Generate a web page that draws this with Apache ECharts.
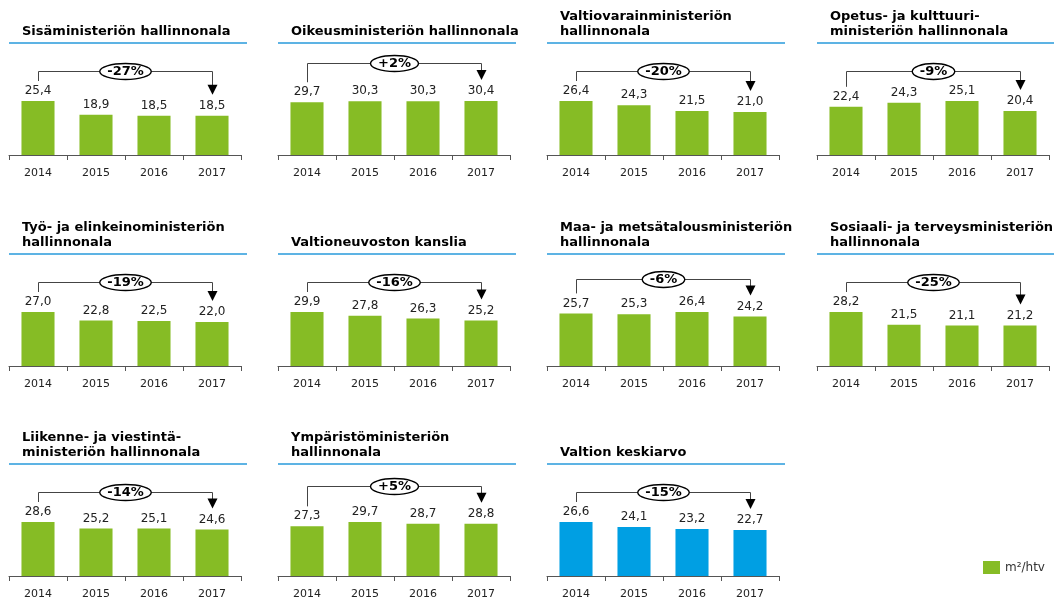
<!DOCTYPE html>
<html>
<head>
<meta charset="utf-8">
<script src="https://cdn.jsdelivr.net/npm/echarts@6/dist/echarts.min.js"></script>
<style>
  html, body { margin: 0; padding: 0; background: #fff; }
  #main { width: 1054px; height: 603px; }
</style>
</head>
<body>
<div id="main"></div>
<script>
// data
const years = ['2014', '2015', '2016', '2017'];
const titles = [
  'Sisäministeriön hallinnonala',
  'Oikeusministeriön hallinnonala',
  'Valtiovarainministeriön\nhallinnonala',
  'Opetus- ja kulttuuri-\nministeriön hallinnonala',
  'Työ- ja elinkeinoministeriön\nhallinnonala',
  'Valtioneuvoston kanslia',
  'Maa- ja metsätalousministeriön\nhallinnonala',
  'Sosiaali- ja terveysministeriön\nhallinnonala',
  'Liikenne- ja viestintä-\nministeriön hallinnonala',
  'Ympäristöministeriön\nhallinnonala',
  'Valtion keskiarvo'
];
const sisa = [25.4, 18.9, 18.5, 18.5];
const oikeus = [29.7, 30.3, 30.3, 30.4];
const valtiovarain = [26.4, 24.3, 21.5, 21.0];
const opetus = [22.4, 24.3, 25.1, 20.4];
const tyo = [27.0, 22.8, 22.5, 22.0];
const vnk = [29.9, 27.8, 26.3, 25.2];
const maa = [25.7, 25.3, 26.4, 24.2];
const sosiaali = [28.2, 21.5, 21.1, 21.2];
const liikenne = [28.6, 25.2, 25.1, 24.6];
const ymparisto = [27.3, 29.7, 28.7, 28.8];
const keskiarvo = [26.6, 24.1, 23.2, 22.7];
const panels = [sisa, oikeus, valtiovarain, opetus, tyo, vnk, maa, sosiaali, liikenne, ymparisto, keskiarvo];
const unitName = 'm²/htv';

// layout
const FONT = 'DejaVu Sans, Verdana, sans-serif';
const COLS = [9, 278, 547, 817];
const BASE = [155, 366, 576];
const W = 232, H = 54;
const GREEN = '#86bc25', BLUE = '#009fe3';

const chart = echarts.init(document.getElementById('main'), null, { renderer: 'canvas' });

const grids = [], xAxes = [], yAxes = [], series = [];
panels.forEach((vals, i) => {
  const c = i % 4, r = Math.floor(i / 4);
  grids.push({ left: COLS[c], top: BASE[r] - H, width: W, height: H });
  xAxes.push({
    gridIndex: i, type: 'category', data: years,
    axisLine: { lineStyle: { color: '#555', width: 1 } },
    axisTick: { show: true, length: 5, lineStyle: { color: '#555' } },
    axisLabel: { fontSize: 11, color: '#222', margin: 13, fontFamily: FONT }
  });
  yAxes.push({ gridIndex: i, type: 'value', min: 0, max: v => v.max, show: false });
  series.push({
    type: 'bar',
    name: i === panels.length - 1 ? 'Valtion keskiarvo' : unitName,
    xAxisIndex: i, yAxisIndex: i,
    data: vals,
    barWidth: '57%',
    itemStyle: { color: i === panels.length - 1 ? BLUE : GREEN },
    label: {
      show: true, position: 'top', distance: 4,
      fontSize: 12, color: '#222', fontFamily: FONT,
      formatter: p => p.value.toFixed(1).replace('.', ',')
    }
  });
});

chart.setOption({
  animation: false,
  textStyle: { fontFamily: FONT },
  grid: grids,
  xAxis: xAxes,
  yAxis: yAxes,
  series: series,
  legend: {
    data: [unitName], left: 978, top: 556, icon: 'rect',
    itemWidth: 17, itemHeight: 13, itemGap: 6, selectedMode: false,
    textStyle: { fontSize: 12, color: '#333', fontFamily: FONT }
  }
});

// titles, underline, change brackets
const measure = document.createElement('canvas').getContext('2d');
measure.font = 'bold 13px ' + FONT;
const graphics = [];
panels.forEach((vals, i) => {
  const c = i % 4, r = Math.floor(i / 4);
  const left = COLS[c];
  const lineY = BASE[r] - 112;
  graphics.push({
    type: 'line', silent: true,
    shape: { x1: left, y1: lineY, x2: left + 238, y2: lineY },
    style: { stroke: '#5db3e4', lineWidth: 2 }
  });
  graphics.push({
    type: 'text', silent: true, x: left + 13, y: lineY - 4,
    style: {
      text: titles[i], font: 'bold 13px ' + FONT, fill: '#000', lineHeight: 15,
      textVerticalAlign: 'bottom', verticalAlign: 'bottom'
    }
  });

  const n = vals.length;
  const p0 = chart.convertToPixel({ gridIndex: i }, [0, vals[0]]);
  const p1 = chart.convertToPixel({ gridIndex: i }, [n - 1, vals[n - 1]]);
  const maxTop = chart.convertToPixel({ gridIndex: i }, [0, Math.max(...vals)])[1];
  const x0 = Math.round(p0[0]) + 0.5, x1 = Math.round(p1[0]) + 0.5;
  const legBottom = p0[1] - 20;
  const tip = p1[1] - 21;
  const by = Math.round(Math.min(maxTop - 30, p1[1] - 38)) + 0.5;
  graphics.push({
    type: 'polyline', silent: true,
    shape: { points: [[x0, legBottom], [x0, by], [x1, by], [x1, tip - 8]] },
    style: { stroke: '#444', lineWidth: 1, fill: null }
  });
  graphics.push({
    type: 'polygon', silent: true,
    shape: { points: [[x1 - 5, tip - 10], [x1 + 5, tip - 10], [x1, tip]] },
    style: { fill: '#000' }
  });
  const pct = Math.round((vals[n - 1] / vals[0] - 1) * 100);
  const txt = (pct > 0 ? '+' : '') + pct + '%';
  const tw = measure.measureText(txt).width;
  const cx = (x0 + x1) / 2;
  graphics.push({
    type: 'ellipse', silent: true,
    shape: { cx: cx, cy: by, rx: (tw + 15) / 2, ry: 8 },
    style: { fill: '#fff', stroke: '#000', lineWidth: 1.4 }
  });
  graphics.push({
    type: 'text', silent: true, x: cx, y: by + 0.5,
    style: {
      text: txt, font: 'bold 13px ' + FONT, fill: '#000',
      textAlign: 'center', align: 'center',
      textVerticalAlign: 'middle', verticalAlign: 'middle'
    }
  });
});
chart.setOption({ graphic: graphics });
</script>
</body>
</html>
